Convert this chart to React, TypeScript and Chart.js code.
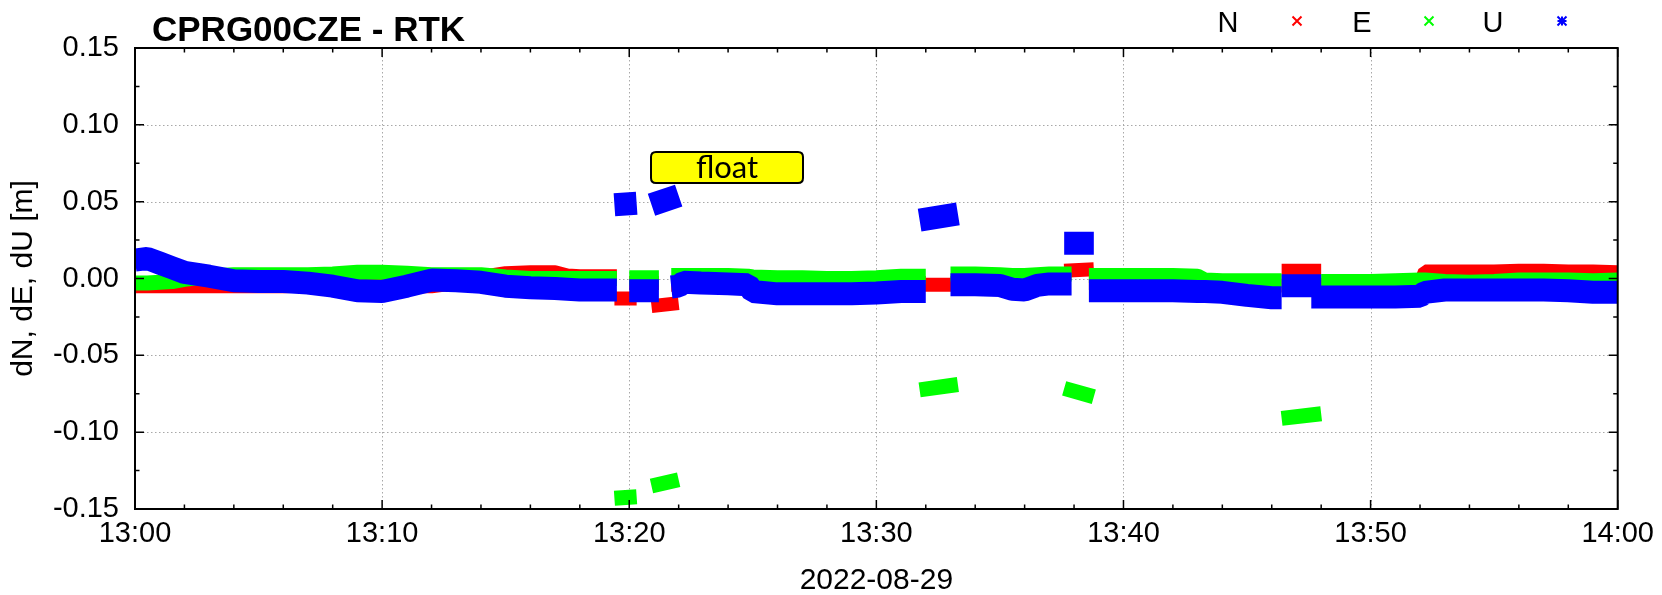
import React, { useEffect, useRef } from 'react';
import { Chart, registerables } from 'chart.js';
Chart.register(...registerables);

const TITLE = 'CPRG00CZE - RTK';
const DATE_LABEL = '2022-08-29';
const Y_TITLE = 'dN, dE, dU [m]';
const FLOAT_LABEL = 'float';
const SERIES_NAMES = ['N', 'E', 'U'];
const SERIES_COLORS = ['#ff0000', '#00ff00', '#0000ff'];

// ticks
const xTickValues = [0, 10, 20, 30, 40, 50, 60]; // minutes after 13:00
const xTickLabels = ['13:00', '13:10', '13:20', '13:30', '13:40', '13:50', '14:00'];
const yTickValues = [-0.15, -0.1, -0.05, 0, 0.05, 0.1, 0.15];

// fixed-solution epochs (minutes after 13:00), values in mm
const fixedTime = [0, 0.5, 1, 1.5, 2, 3, 4, 5, 6, 7, 8, 9, 10, 11, 12, 13, 14, 15, 16, 17, 17.5, 18, 19, 19.5, 19.75, 20, 21, 21.2, 21.45, 21.7, 22, 22.2, 22.9, 24, 24.8, 25, 26, 27, 28, 29, 30, 31, 32, 32.5, 33, 34, 35, 35.5, 36, 36.5, 37, 37.5, 37.9, 38.2, 38.6, 39, 40, 41, 42, 43, 43.3, 44, 45, 46, 46.4, 47, 47.6, 48, 49, 50, 51, 52, 52.2, 53, 54, 55, 56, 57, 58, 59, 60];
const fixedN = [-5, -5, -5, -5, -5, -5, -5, -5, -5, -4.5, -4, -4, -4, -5, -5, -3, 1, 3.5, 4, 4, 2, 1.5, 1.5, 1.5, null, -3, -3, -3, null, -4, -4, -4, -4, -4, -4, -3, -3, -3, -3, -3, -3, -3, -3, null, -3, -3, -3, -3, -3, -3, -3, -3, null, null, -3, -3, -2.5, -2.5, -3, -3, -3, -3, -4, -4.5, -4.5, null, null, -4, -4, -4, -4, -4, 4.5, 4.5, 4.5, 4.5, 5, 5, 4.5, 4.5, 4];
const fixedE = [-3, -3, -2.5, -2, -0.5, 1.5, 2.5, 2.5, 2.5, 2.5, 3, 4, 4, 3.5, 2.5, 2.5, 2.5, 1, 0, 0, 0, 0, 0, 0, null, 0.5, 0.5, 0.5, null, 2, 2, 2, 2, 2, 1.5, 1, 0.5, 0.5, 0, 0, 0.5, 1.5, 1.5, null, 3, 3, 2.5, 2, 2, 2.5, 3, 3, 3, null, 2, 2, 2, 2, 2, 1.5, -1, -1.5, -1.5, -1.5, -1.5, null, null, -2, -2, -2, -1.5, -1, -1, -2, -2.5, -2, -1, -1, -1, -1.5, -1];
const fixedU = [12, 13, 10, 7, 4, 1.5, -1.5, -2, -2, -3, -5, -8, -8.5, -5, -1, -1.5, -2.5, -5, -6, -6.5, -7, -7.5, -7.5, -7.5, null, -8, -8, -8, null, -5.5, -5, -2.5, -3, -3.5, -4, -8.5, -10, -10, -10, -10, -9.5, -8.5, -8.5, null, -4, -4, -4.5, -7, -7.5, -4.5, -3.5, -3.5, -3.5, null, -8, -8, -8, -8, -8, -8.5, -8.5, -9, -11, -12.5, -12.5, null, -12, -12, -12, -12, -12, -11.5, -9, -7.5, -7.5, -7.5, -7.5, -7.5, -8, -9, -9];

// float-solution blocks (minutes after 13:00), values in mm at block start / end
const floatStart = [19.4, 20.9, 31.75, 37.6, 46.4];
const floatEnd = [20.3, 22.0, 33.3, 38.8, 48.0];
const floatNStart = [-13, -18, -4, 5, 5];
const floatNEnd = [-13, -16, -4, 6, 5];
const floatEStart = [-143, -135, -72.5, -71.5, -91];
const floatEEnd = [-142, -131, -69, -77, -88];
const floatUStart = [48, 48, 38, 23, -4.7];
const floatUEnd = [49, 54, 42, 23, -4.7];

const BAND_WIDTH = [14, 15, 23];

function fixedData(vals: (number | null)[]) {
  return fixedTime.map((t, i) => ({ x: t, y: vals[i] === null ? null : (vals[i] as number) / 1000 }));
}
function floatData(s: number[], e: number[]) {
  const out: { x: number; y: number | null }[] = [];
  floatStart.forEach((t0, k) => {
    out.push({ x: t0, y: s[k] / 1000 });
    out.push({ x: floatEnd[k], y: e[k] / 1000 });
    if (k < floatStart.length - 1) out.push({ x: (floatEnd[k] + floatStart[k + 1]) / 2, y: null });
  });
  return out;
}

const FONT = '"Liberation Sans", Arial, sans-serif';

const decorPlugin = {
  id: 'decor',
  beforeDatasetsDraw(chart: any) {
    const { ctx, chartArea: a, scales } = chart;
    const x = scales.x, y = scales.y;
    ctx.save();
    ctx.strokeStyle = '#a8a8a8';
    ctx.lineWidth = 1;
    ctx.setLineDash([1.5, 2.5]);
    xTickValues.forEach((m) => {
      if (m === 0 || m === 60) return;
      const px = Math.round(x.getPixelForValue(m)) + 0.5;
      ctx.beginPath(); ctx.moveTo(px, a.top); ctx.lineTo(px, a.bottom); ctx.stroke();
    });
    yTickValues.forEach((v) => {
      if (Math.abs(v) > 0.14) return;
      const py = Math.round(y.getPixelForValue(v)) + 0.5;
      ctx.beginPath(); ctx.moveTo(a.left, py); ctx.lineTo(a.right, py); ctx.stroke();
    });
    ctx.restore();
  },
  afterDatasetsDraw(chart: any) {
    const { ctx, chartArea: a, scales } = chart;
    const x = scales.x, y = scales.y;
    ctx.save();
    // frame
    ctx.strokeStyle = '#000';
    ctx.lineWidth = 2;
    ctx.strokeRect(a.left, a.top, a.right - a.left, a.bottom - a.top);
    // ticks (inward, mirrored)
    ctx.lineWidth = 1.5;
    for (let m = 0; m <= 60; m += 2) {
      const len = m % 10 === 0 ? 9 : 4.5;
      const px = x.getPixelForValue(m);
      ctx.beginPath();
      ctx.moveTo(px, a.bottom); ctx.lineTo(px, a.bottom - len);
      ctx.moveTo(px, a.top); ctx.lineTo(px, a.top + len);
      ctx.stroke();
    }
    for (let k = 0; k <= 12; k++) {
      const v = -0.15 + k * 0.025;
      const len = k % 2 === 0 ? 9 : 4.5;
      const py = y.getPixelForValue(v);
      ctx.beginPath();
      ctx.moveTo(a.left, py); ctx.lineTo(a.left + len, py);
      ctx.moveTo(a.right, py); ctx.lineTo(a.right - len, py);
      ctx.stroke();
    }
    // title
    ctx.fillStyle = '#000';
    ctx.font = `bold 35px ${FONT}`;
    ctx.textAlign = 'left';
    ctx.textBaseline = 'alphabetic';
    ctx.fillText(TITLE, 152, 41);
    // legend
    ctx.font = `29px ${FONT}`;
    ctx.textAlign = 'center';
    const textX = [1228, 1362, 1493];
    const markX = [1297, 1429, 1562];
    SERIES_NAMES.forEach((n, i) => {
      ctx.fillStyle = '#000';
      ctx.fillText(n, textX[i], 32);
      ctx.strokeStyle = SERIES_COLORS[i];
      ctx.lineWidth = 2;
      const cx = markX[i], cy = 21, r = 4.5;
      ctx.beginPath();
      ctx.moveTo(cx - r, cy - r); ctx.lineTo(cx + r, cy + r);
      ctx.moveTo(cx - r, cy + r); ctx.lineTo(cx + r, cy - r);
      if (i === 2) {
        ctx.moveTo(cx - r, cy); ctx.lineTo(cx + r, cy);
        ctx.moveTo(cx, cy - r); ctx.lineTo(cx, cy + r);
      }
      ctx.stroke();
    });
    // axis titles
    ctx.fillStyle = '#000';
    ctx.font = `30px ${FONT}`;
    ctx.textAlign = 'center';
    ctx.textBaseline = 'middle';
    ctx.fillText(DATE_LABEL, (a.left + a.right) / 2, 581);
    ctx.save();
    ctx.translate(24, (a.top + a.bottom) / 2);
    ctx.rotate(-Math.PI / 2);
    ctx.fillText(Y_TITLE, 0, 0);
    ctx.restore();
    // float label box
    const bx = 651, by = 152, bw = 152, bh = 31, r = 5;
    ctx.beginPath();
    ctx.moveTo(bx + r, by);
    ctx.lineTo(bx + bw - r, by); ctx.quadraticCurveTo(bx + bw, by, bx + bw, by + r);
    ctx.lineTo(bx + bw, by + bh - r); ctx.quadraticCurveTo(bx + bw, by + bh, bx + bw - r, by + bh);
    ctx.lineTo(bx + r, by + bh); ctx.quadraticCurveTo(bx, by + bh, bx, by + bh - r);
    ctx.lineTo(bx, by + r); ctx.quadraticCurveTo(bx, by, bx + r, by);
    ctx.closePath();
    ctx.fillStyle = '#ffff00';
    ctx.fill();
    ctx.strokeStyle = '#000';
    ctx.lineWidth = 2;
    ctx.stroke();
    ctx.fillStyle = '#000';
    ctx.font = '31px Lato, "Open Sans", sans-serif';
    ctx.textAlign = 'center';
    ctx.textBaseline = 'alphabetic';
    ctx.fillText(FLOAT_LABEL, bx + bw / 2, 178);
    ctx.restore();
  },
};

export default function App() {
  const ref = useRef<HTMLCanvasElement>(null);
  useEffect(() => {
    const fixedSets = [fixedN, fixedE, fixedU];
    const floatSets = [
      [floatNStart, floatNEnd],
      [floatEStart, floatEEnd],
      [floatUStart, floatUEnd],
    ];
    const datasets: any[] = [];
    SERIES_NAMES.forEach((name, i) => {
      const common = {
        borderColor: SERIES_COLORS[i],
        backgroundColor: SERIES_COLORS[i],
        borderWidth: BAND_WIDTH[i],
        pointRadius: 0,
        borderCapStyle: 'butt',
        borderJoinStyle: 'bevel',
        spanGaps: false,
        tension: 0,
        fill: false,
        order: 3 - i,
      };
      datasets.push({ label: name, data: fixedData(fixedSets[i]), ...common });
      datasets.push({ label: name + ' float', data: floatData(floatSets[i][0], floatSets[i][1]), ...common });
    });
    const chart = new Chart(ref.current as HTMLCanvasElement, {
      type: 'line',
      data: { datasets },
      options: {
        animation: false,
        responsive: false,
        devicePixelRatio: 1,
        parsing: true,
        layout: { padding: { top: 48, right: 43, left: 0, bottom: 0 } },
        plugins: { legend: { display: false }, tooltip: { enabled: false }, title: { display: false } },
        scales: {
          x: {
            type: 'linear',
            min: 0,
            max: 60,
            grid: { display: false, drawTicks: false },
            border: { display: false },
            afterFit: (s: any) => { s.height = 86; },
            afterBuildTicks: (s: any) => { s.ticks = xTickValues.map((v) => ({ value: v })); },
            ticks: {
              autoSkip: false,
              maxRotation: 0,
              padding: 8,
              color: '#000',
              font: { family: FONT, size: 29 },
              callback: (v: any) => xTickLabels[xTickValues.indexOf(Number(v))] ?? '',
            },
          },
          y: {
            type: 'linear',
            min: -0.15,
            max: 0.15,
            grid: { display: false, drawTicks: false },
            border: { display: false },
            afterFit: (s: any) => { s.width = 135; },
            afterBuildTicks: (s: any) => { s.ticks = yTickValues.map((v) => ({ value: v })); },
            ticks: {
              autoSkip: false,
              padding: 16,
              color: '#000',
              font: { family: FONT, size: 29 },
              callback: (v: any) => Number(v).toFixed(2),
            },
          },
        },
      },
      plugins: [decorPlugin],
    } as any);
    return () => chart.destroy();
  }, []);
  return (
    <div style={{ position: 'absolute', left: 0, top: 0, width: 1662, height: 595, background: '#fff' }}>
      <canvas ref={ref} width={1662} height={595} style={{ display: 'block', width: 1662, height: 595 }} />
    </div>
  );
}
